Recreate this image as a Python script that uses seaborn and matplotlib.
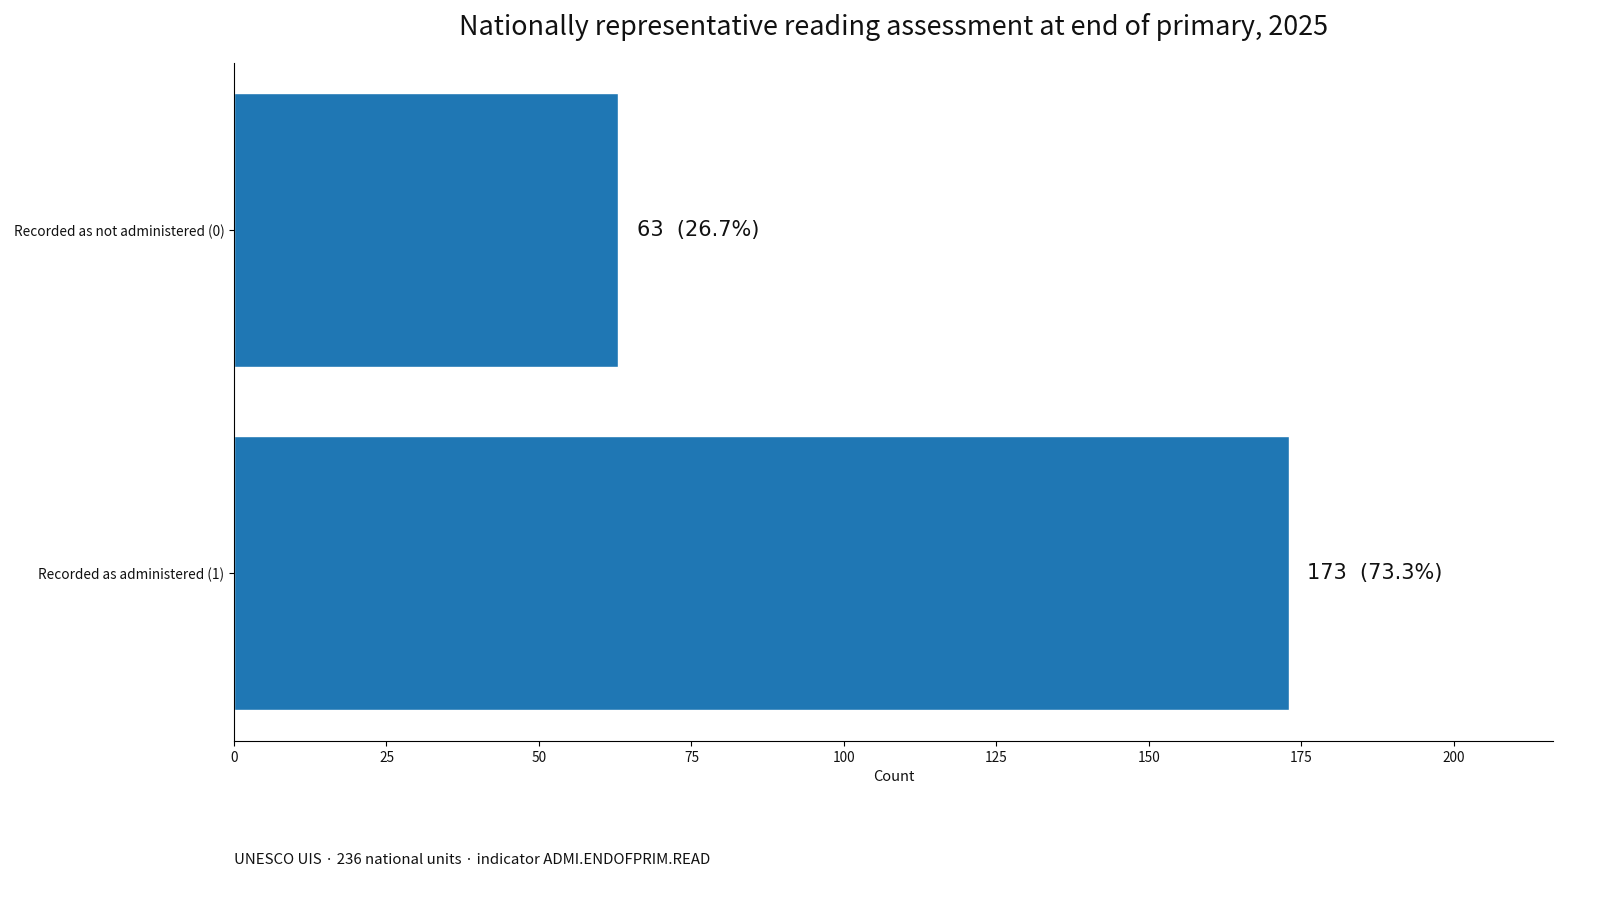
import matplotlib
matplotlib.use("Agg")
import matplotlib.pyplot as plt
import seaborn as sns
import pandas as pd

categories = ["Recorded as not administered (0)", "Recorded as administered (1)"]
counts = [63, 173]
total_units = 236
title = "Nationally representative reading assessment at end of primary, 2025"
footer = "UNESCO UIS · 236 national units · indicator ADMI.ENDOFPRIM.READ"

sns.set_theme(style="white")
plt.rcParams['font.family'] = ['Noto Sans CJK KR', 'DejaVu Sans']
plt.rcParams['text.color'] = '#111111'
plt.rcParams['axes.labelcolor'] = '#111111'
plt.rcParams['xtick.color'] = '#111111'
plt.rcParams['ytick.color'] = '#111111'

df = pd.DataFrame({"category": categories, "count": counts})

fig = plt.figure(figsize=(16, 9), dpi=100)
ax = fig.add_axes([234/1600, 1 - 741/900, (1553-234)/1600, (741-63)/900])
sns.barplot(data=df, y="category", x="count", orient="h", color="#1f77b4",
            saturation=1, width=0.8, ax=ax)
ax.set_xlim(0, max(counts) * 1.25)
ax.set_ylim(1.49, -0.487)
ax.set_xticks([0, 25, 50, 75, 100, 125, 150, 175, 200])
ax.set_xlabel("Count", fontsize=10.5, labelpad=4)
ax.set_ylabel("")
ax.tick_params(axis="both", labelsize=9.8, length=3.5, width=0.8, color="black", bottom=True, left=True)
for s in ["top", "right"]:
    ax.spines[s].set_visible(False)
for s in ["left", "bottom"]:
    ax.spines[s].set_color("black")
    ax.spines[s].set_linewidth(0.8)

for i, c in enumerate(counts):
    pct = c / total_units * 100
    ax.text(c + 3, i, f"{c}  ({pct:.1f}%)", va="center", ha="left", fontsize=15,
            family=['DejaVu Sans'], color="#111111")

fig.text((234+1553)/2/1600, 1 - 27/900, title, ha="center", va="center", fontsize=19.4)
fig.text(234/1600, 1 - 860/900, footer, ha="left", va="center", fontsize=10.8)

fig.savefig("out.png", dpi=100)
